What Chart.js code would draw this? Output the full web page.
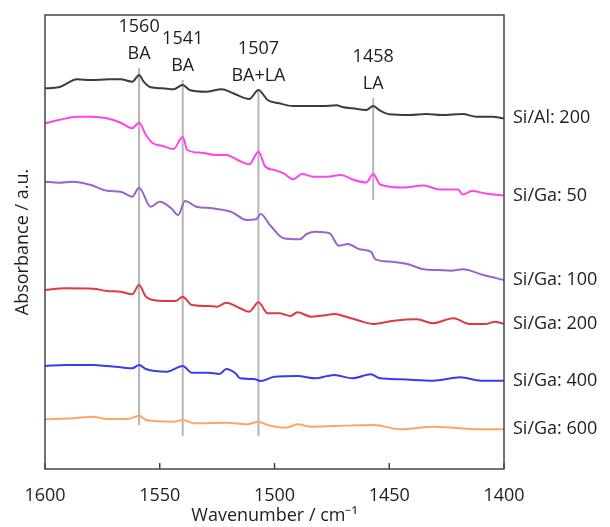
<!DOCTYPE html>
<html>
<head>
<meta charset="utf-8">
<script src="https://cdn.jsdelivr.net/npm/chart.js@4.4.0/dist/chart.umd.min.js"></script>
<style>
  body { margin: 0; background: #fff; }
</style>
</head>
<body>
<canvas id="spectra" width="610" height="527"></canvas>
<script>
// wavenumbers (cm-1) and offset absorbance (a.u.)
const siAl200Wn = [1600,1594,1586,1580,1572,1567,1562,1559,1557,1554,1549,1544,1540,1537,1530,1523,1518,1511,1507,1503,1498,1492,1486,1479,1473,1470,1466,1460,1457,1454,1450,1441,1434,1427,1418,1412,1405,1400];
const siAl200Abs = [380.7,381.7,389.7,389,389.7,389.7,387.3,394,387.3,381.7,380.7,379.7,384,379,377.3,379.7,375.7,370,379,369,365.7,363,363,363,363.7,361.7,360.7,359,363,358.3,354.7,354,355,354,355,352.3,352.3,350.7];

const siGa50Wn = [1600,1594,1586,1580,1573,1567,1562,1559,1556,1553,1549,1544,1540,1538,1532,1526,1521,1516,1511,1507,1504,1500,1496,1492,1488,1483,1477,1471,1466,1460,1457,1454,1444,1435,1428,1420,1418,1414,1408,1400];
const siGa50Abs = [345.7,349,352.3,352.3,350.7,346.3,340.7,346.3,334,325.7,323.3,320,332.3,319,316.3,314,314,309,304.7,317.3,302.3,299,295.7,289.7,295,292.3,292.3,294,289.5,286.5,295,284.5,281.5,283.5,279.5,279.5,274.5,278,275.5,273.5];

const siGa100Wn = [1600,1594,1588,1580,1573,1567,1562,1559,1554,1550,1545,1542,1539,1534,1527,1519,1512,1508,1506,1502,1496,1489,1486,1482,1476,1472,1468,1463,1458,1456,1449,1442,1435,1429,1423,1418,1409,1400];
const siGa100Abs = [287.3,286.3,287.3,284,278.3,277.3,272.3,281.3,262.3,267.3,260.7,254,268,262.3,260.7,257.3,249,249.7,255,244,230.7,229.7,235,237.3,235.7,223.3,225,219.7,217.3,209.7,207.3,205,199.7,199,198.3,199.7,194,189];

const siGa200Wn = [1600,1591,1579,1573,1567,1562,1559,1556,1550,1543,1540,1536,1529,1525,1521,1515,1511,1507,1503,1498,1493,1490,1484,1477,1474,1470,1463,1457,1448,1438,1431,1422,1415,1408,1404,1400];
const siGa200Abs = [179,180.7,180.3,178,177.3,174.7,184,172.3,168.3,168,172.3,164,163,162.3,166.3,160.7,157.3,166.7,155.7,155.7,153,156.7,152.3,154,155,153,148.3,145,148.3,149.7,145.7,150.7,145,145,147.3,145];

const siGa400Wn = [1600,1591,1579,1573,1567,1562,1559,1556,1547,1540,1536,1529,1524,1521,1517,1515,1509,1506,1500,1490,1482,1477,1474,1466,1458,1454,1445,1431,1419,1410,1400];
const siGa400Abs = [103,104,104,103,101.7,100.7,104,100,97.3,103,96.3,96.3,95,100,95.7,90.7,90,88,92.3,93,90.7,93,94,90.7,94.7,90.7,89.7,88.3,91.7,88.3,88.3];

const siGa600Wn = [1600,1588,1579,1573,1564,1559,1556,1544,1540,1535,1521,1512,1507,1503,1495,1490,1484,1474,1457,1445,1431,1419,1410,1400];
const siGa600Abs = [49.7,50.7,52.3,50,50,53.3,49,47.3,49,45.7,46.3,44.7,47.3,44,41.3,44.7,42.3,43,44,39.7,42.3,40.7,39.7,39.7];

// assignment markers
const peakWn = [1559, 1540, 1507, 1457];
const peakTop = [401, 389, 379, 371];
const peakBottom = [44, 33, 33, 269];
const peakNames = ['1560', '1541', '1507', '1458'];
const peakTypes = ['BA', 'BA', 'BA+LA', 'LA'];

const xTicks = [1600, 1550, 1500, 1450, 1400];

const series = [
  { label: 'Si/Al: 200', wn: siAl200Wn, abs: siAl200Abs, color: '#3c3c3c' },
  { label: 'Si/Ga: 50', wn: siGa50Wn, abs: siGa50Abs, color: '#ff45ea' },
  { label: 'Si/Ga: 100', wn: siGa100Wn, abs: siGa100Abs, color: '#9b63cc' },
  { label: 'Si/Ga: 200', wn: siGa200Wn, abs: siGa200Abs, color: '#e0393f' },
  { label: 'Si/Ga: 400', wn: siGa400Wn, abs: siGa400Abs, color: '#3b3bee' },
  { label: 'Si/Ga: 600', wn: siGa600Wn, abs: siGa600Abs, color: '#ffa464' }
];

const FONT = "'Open Sans', sans-serif";
Chart.defaults.font.family = FONT;
Chart.defaults.font.size = 18;
Chart.defaults.color = '#1e1e1e';

const datasets = series.map(s => ({
  label: s.label,
  data: s.wn.map((w, i) => ({ x: w, y: s.abs[i] })),
  borderColor: s.color,
  borderWidth: 2,
  pointRadius: 0,
  cubicInterpolationMode: 'monotone'
}));

// gray marker lines go last so they sit under the spectra
peakWn.forEach((w, i) => {
  datasets.push({
    label: 'peak ' + peakNames[i],
    data: [{ x: w, y: peakBottom[i] }, { x: w, y: peakTop[i] }],
    borderColor: '#b5b5b5',
    borderWidth: 2,
    pointRadius: 0
  });
});

const extras = {
  id: 'extras',
  afterDatasetsDraw(chart) {
    const { ctx, chartArea: a, scales: { x, y } } = chart;
    ctx.save();
    ctx.strokeStyle = '#444';
    ctx.lineWidth = 1.5;
    ctx.strokeRect(a.left, a.top, a.right - a.left, a.bottom - a.top);
    // inward tick marks
    xTicks.forEach(t => {
      const px = x.getPixelForValue(t);
      ctx.beginPath();
      ctx.moveTo(px, a.bottom);
      ctx.lineTo(px, a.bottom - 6);
      ctx.stroke();
    });
    ctx.fillStyle = '#1e1e1e';
    ctx.font = '18px ' + FONT;
    ctx.textAlign = 'center';
    ctx.textBaseline = 'middle';
    peakWn.forEach((w, i) => {
      const px = x.getPixelForValue(w);
      const py = y.getPixelForValue(peakTop[i]);
      ctx.fillText(peakTypes[i], px, py - 14);
      ctx.fillText(peakNames[i], px, py - 41);
    });
    ctx.textAlign = 'left';
    series.forEach(s => {
      ctx.fillText(s.label, a.right + 9, y.getPixelForValue(s.abs[s.abs.length - 1]));
    });
    ctx.restore();
  }
};

new Chart(document.getElementById('spectra'), {
  type: 'line',
  data: { datasets },
  plugins: [extras],
  options: {
    responsive: false,
    animation: false,
    layout: { padding: { top: 15, right: 106, left: 0, bottom: 0 } },
    plugins: { legend: { display: false }, tooltip: { enabled: false } },
    scales: {
      x: {
        type: 'linear',
        reverse: true,
        min: 1400,
        max: 1600,
        grid: { display: false },
        border: { display: false },
        afterBuildTicks: scale => { scale.ticks = xTicks.map(v => ({ value: v })); },
        ticks: { padding: 8, callback: v => String(v), maxRotation: 0 },
        title: { display: true, text: 'Wavenumber / cm⁻¹', padding: { top: 0, bottom: 0 } },
        afterFit: scale => { scale.height = 58; }
      },
      y: {
        min: 0,
        max: 454,
        grid: { display: false },
        border: { display: false },
        ticks: { display: false },
        title: { display: true, text: 'Absorbance / a.u.', padding: { top: 12, bottom: 0 } },
        afterFit: scale => { scale.width = 45; }
      }
    }
  }
});
</script>
</body>
</html>
